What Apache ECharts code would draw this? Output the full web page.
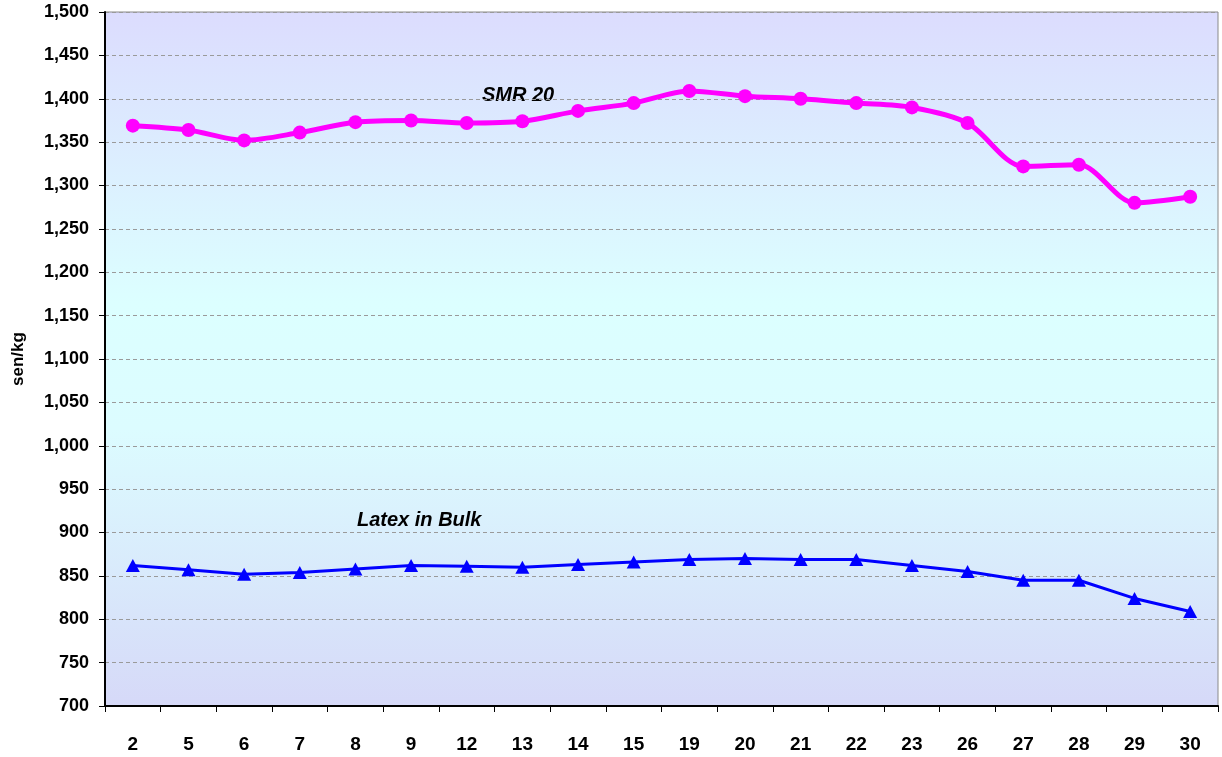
<!DOCTYPE html>
<html>
<head>
<meta charset="utf-8">
<script src="https://cdn.jsdelivr.net/npm/echarts@6/dist/echarts.min.js"></script>
<style>
  html, body { margin: 0; padding: 0; background: #fff; }
  #chart { width: 1222px; height: 757px; }
</style>
</head>
<body>
<div id="chart"></div>
<script>
// trading days
var days = ['2','5','6','7','8','9','12','13','14','15','19','20','21','22','23','26','27','28','29','30'];
// sen/kg
var smr20 = [1369,1364,1352,1361,1373,1375,1372,1374,1386,1395,1409,1403,1400,1395,1390,1372,1322,1324,1280,1287];
var latexBulk = [862,857,852,854,858,862,861,860,863,866,869,870,869,869,862,855,845,845,824,809];

var myChart = echarts.init(document.getElementById('chart'));
var font = 'Liberation Sans, Arial, sans-serif';

var option = {
    animation: false,
    backgroundColor: '#fff',
    grid: {
        left: 105, top: 12, width: 1113, height: 694,
        show: true,
        borderColor: '#8a8a8a',
        borderWidth: 1,
        backgroundColor: new echarts.graphic.LinearGradient(0, 0, 0, 1, [
            {offset: 0, color: '#dcdcfe'},
            {offset: 0.42, color: '#dcffff'},
            {offset: 0.6, color: '#dcfcff'},
            {offset: 1, color: '#d6d9f8'}
        ])
    },
    xAxis: {
        type: 'category',
        data: days,
        boundaryGap: true,
        axisLine: {lineStyle: {color: '#000', width: 2}},
        axisTick: {show: true, length: 6, lineStyle: {color: '#000', width: 1}},
        axisLabel: {color: '#000', fontWeight: 'bold', fontSize: 19, fontFamily: font, margin: 29}
    },
    yAxis: {
        type: 'value',
        min: 700, max: 1500, interval: 50,
        name: 'sen/kg',
        nameLocation: 'middle',
        nameGap: 78,
        nameRotate: 90,
        nameTextStyle: {color: '#000', fontWeight: 'bold', fontSize: 17, fontFamily: font},
        axisLine: {show: true, lineStyle: {color: '#000', width: 2}},
        axisTick: {show: true, length: 6, lineStyle: {color: '#000'}},
        axisLabel: {
            color: '#000', fontWeight: 'bold', fontSize: 18, fontFamily: font, margin: 16,
            formatter: function(v){ return v.toLocaleString('en-US'); }
        },
        splitLine: {show: true, lineStyle: {color: '#9a9a9a', type: [4, 3], width: 1}}
    },
    series: [
        {
            name: 'SMR 20',
            type: 'line',
            data: smr20,
            smooth: 0.3,
            symbol: 'circle',
            symbolSize: 14,
            lineStyle: {color: '#ff00ff', width: 5},
            itemStyle: {color: '#ff00ff'},
            z: 3
        },
        {
            name: 'Latex in Bulk',
            type: 'line',
            data: latexBulk,
            symbol: 'triangle',
            symbolSize: [14, 13],
            lineStyle: {color: '#0000ff', width: 3},
            itemStyle: {color: '#0000ff'},
            z: 3
        }
    ],
    graphic: [
        {
            type: 'text', left: 482, top: 85,
            style: {text: 'SMR 20', fill: '#000', font: 'italic bold 20px ' + font}
        },
        {
            type: 'text', left: 357, top: 510,
            style: {text: 'Latex in Bulk', fill: '#000', font: 'italic bold 20px ' + font}
        }
    ]
};
myChart.setOption(option);
</script>
</body>
</html>
